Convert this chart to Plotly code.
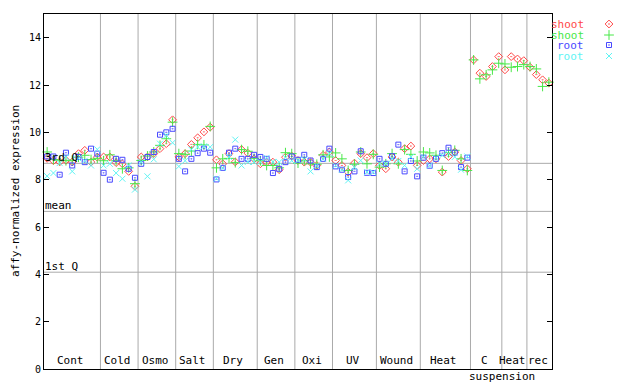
import plotly.graph_objects as go

# ---------------- data ----------------
groups = ["Cont", "Cold", "Osmo", "Salt", "Dry", "Gen", "Oxi", "UV", "Wound", "Heat", "C", "Heat", "rec"]
group_sizes = [9, 6, 6, 6, 7, 6, 6, 7, 7, 8, 5, 4, 4]

shoot_a = [8.90, 8.80, 8.75, 8.82, 8.75, 9.10, 9.24, 8.74, 8.95,
           8.96, 8.96, 8.72, 8.67, 8.35, 7.72,
           8.96, 8.96, 9.10, 9.31, 9.52, 10.53,
           8.96, 9.10, 9.49, 9.77, 10.02, 10.22,
           8.84, 8.67, 9.10, 8.75, 9.27, 9.12, 8.88,
           8.67, 8.74, 8.74, 8.42, 8.95, 9.00,
           8.81, 8.74, 8.74, 8.60, 9.03, 9.17,
           8.81, 8.60, 8.32, 8.70, 9.10, 8.93, 9.10,
           8.60, 8.46, 8.96, 8.74, 9.31, 9.42, 8.60,
           8.81, 8.88, 8.88, 8.32, 8.98, 9.17, 8.81, 8.46,
           13.06, 12.50, 12.36, 12.78, 13.20,
           12.64, 13.20, 13.10, 13.03,
           12.75, 12.44, 12.22, 12.08]
shoot_b = [9.17, 8.85, 8.82, 8.80, 8.82, 8.95, 9.03, 8.85, 8.90,
           8.80, 9.05, 8.80, 8.46, 8.50, 7.83,
           8.81, 9.00, 9.17, 9.45, 9.73, 10.43,
           9.10, 9.07, 9.21, 9.49, 9.47, 10.25,
           8.50, 8.88, 8.90, 8.72, 9.27, 9.20, 8.90,
           8.80, 8.60, 8.60, 8.50, 9.14, 9.10,
           8.70, 8.80, 8.67, 8.65, 9.05, 8.96,
           9.13, 8.88, 8.39, 8.65, 9.17, 8.67, 9.07,
           8.53, 8.67, 9.10, 8.67, 9.27, 9.07, 8.79,
           9.17, 9.13, 9.03, 8.39, 9.14, 9.24, 8.88, 8.39,
           13.06, 12.26, 12.43, 12.64, 12.92,
           12.89, 12.75, 12.78, 12.86,
           12.78, 12.68, 11.94, 12.12]
root_a = [8.98, 8.98, 8.21, 9.14, 8.60, 8.96, 8.74, 9.31, 9.10,
          8.29, 8.00, 8.88, 8.84, 8.46, 8.08,
          8.67, 8.96, 9.17, 9.90, 10.00, 10.15,
          8.88, 8.35, 8.88, 9.12, 9.31, 9.14,
          8.01, 8.50, 9.14, 9.31, 8.88, 8.88, 9.05,
          8.96, 8.88, 8.28, 8.46, 8.74, 8.98,
          8.84, 9.05, 8.81, 8.53, 8.88, 9.31,
          8.56, 8.42, 8.11, 8.35, 9.20, 8.29, 8.28,
          8.88, 8.67, 8.99, 9.48, 8.35, 8.79, 8.14,
          8.93, 8.59, 8.88, 9.12, 9.35, 9.14, 8.53, 8.93,
          None, None, None, None, None,
          None, None, None, None,
          None, None, None, None]
root_b = [8.15, 8.28, 8.70, 8.95, 8.35, 8.90, 8.80, 8.60, 9.28,
          8.60, 8.67, 8.28, 8.04, 8.60, 7.58,
          8.75, 8.14, 8.86, 9.52, 9.87, 9.56,
          8.56, 8.80, 9.27, 9.38, 9.41, 9.38,
          8.04, 8.50, 8.96, 9.69, 8.60, 8.75, 8.75,
          8.75, 8.92, 8.75, 8.74, 8.93, 8.80,
          8.81, 8.85, 8.35, 8.60, 8.88, 9.10,
          8.60, 8.42, 7.97, 8.53, 8.81, 8.32, 8.32,
          8.67, 8.67, 8.88, 8.79, 8.60, 8.96, 8.46,
          8.96, 8.60, 8.93, 9.03, 9.10, 8.96, 8.42, 8.98,
          None, None, None, None, None,
          None, None, None, None,
          None, None, None, None]

stat_names = ["3rd Q", "mean", "1st Q"]
stat_values = [8.69, 6.66, 4.09]

y_ticks = [0, 2, 4, 6, 8, 10, 12, 14]
legend_names = ["shoot", "shoot", "root", "root"]

# ---------------- styles ----------------
FONT = "DejaVu Sans Mono"
colors = ["#ff4848", "#48e848", "#4848ff", "#60f4f4"]
symbols = ["diamond-open-dot", "cross-thin-open", "square-open-dot", "x-thin-open"]
sizes = [6, 7, 5, 6]
GRID = "#aaaaaa"

# page is drawn with an 8px body margin; work in figure pixels = page pixels - 8
OFF = 8
W, H = 640 - OFF, 384 - OFF
L, R, T, B = 44 - OFF, 552 - OFF, 14 - OFF, 369 - OFF

n = sum(group_sizes)
xs = list(range(n))
series = [shoot_a, shoot_b, root_a, root_b]

fig = go.Figure()
for vals, c, s, sz in zip(series, colors, symbols, sizes):
    fig.add_trace(go.Scatter(
        x=xs, y=vals, mode="markers",
        marker=dict(symbol=s, size=sz, color=c, line=dict(color=c, width=1)),
        showlegend=False, cliponaxis=False, hoverinfo="skip"))

shapes = []
annotations = []
start = 0
for gi, (g, sz) in enumerate(zip(groups, group_sizes)):
    end = start + sz
    if gi < len(groups) - 1:
        shapes.append(dict(type="line", xref="x", yref="y domain", x0=end - 0.5, x1=end - 0.5,
                           y0=0, y1=1, line=dict(color=GRID, width=1), layer="below"))
    center = (start + end - 1) / 2 - 0.3
    annotations.append(dict(x=center, y=0, xref="x", yref="y", text=g, showarrow=False,
                            yanchor="bottom", yshift=0, font=dict(family=FONT, size=11, color="black")))
    if g == "C":
        annotations.append(dict(x=end - 0.5, y=0, xref="x", yref="y", text="suspension", showarrow=False,
                                yanchor="top", yshift=1, font=dict(family=FONT, size=11, color="black")))
    start = end

for name, v in zip(stat_names, stat_values):
    shapes.append(dict(type="line", xref="x domain", yref="y", x0=0, x1=1, y0=v, y1=v,
                       line=dict(color=GRID, width=1), layer="below"))
    annotations.append(dict(x=0, y=v, xref="x domain", yref="y", text=name, showarrow=False,
                            xanchor="left", yanchor="bottom", xshift=-1, yshift=-3,
                            font=dict(family=FONT, size=11, color="black")))

annotations.append(dict(x=(15 - OFF) / W, y=1 - (191 - OFF) / H, xref="paper", yref="paper",
                        xanchor="center", yanchor="middle",
                        text="affy-normalized expression", textangle=-90, showarrow=False,
                        font=dict(family=FONT, size=11, color="black")))

# legend: text + marker on a full-figure pixel axis
leg_rows = [24, 35, 45, 56]
for name, c, yy in zip(legend_names, colors, leg_rows):
    annotations.append(dict(x=586 - OFF, y=yy - OFF, xref="x2", yref="y2", text=name, showarrow=False,
                            xanchor="right", yanchor="middle", font=dict(family=FONT, size=11, color=c)))
for c, s, sz, yy in zip(colors, symbols, sizes, leg_rows):
    fig.add_trace(go.Scatter(x=[609 - OFF], y=[yy - OFF], xaxis="x2", yaxis="y2", mode="markers",
                             marker=dict(symbol=s, size=sz, color=c, line=dict(color=c, width=1)),
                             showlegend=False, hoverinfo="skip", cliponaxis=False))

fig.update_layout(
    width=W, height=H, margin=dict(l=0, r=0, t=0, b=0),
    paper_bgcolor="white", plot_bgcolor="rgba(0,0,0,0)",
    showlegend=False,
    xaxis=dict(domain=[L / W, R / W], range=[-0.5, n - 0.5], showgrid=False, zeroline=False,
               showticklabels=False, ticks="", showline=True, linecolor="black", linewidth=1,
               mirror=True, automargin=False),
    yaxis=dict(domain=[(H - B) / H, (H - T) / H], range=[0, 15], showgrid=False, zeroline=False,
               tickvals=y_ticks, ticks="inside", ticklen=5, tickcolor="black",
               showline=True, linecolor="black", linewidth=1, mirror="allticks",
               tickfont=dict(family=FONT, size=10, color="black"), automargin=False),
    xaxis2=dict(domain=[0, 1], range=[0, W], anchor="y2", visible=False, fixedrange=True),
    yaxis2=dict(domain=[0, 1], range=[H, 0], anchor="x2", visible=False, fixedrange=True),
    shapes=shapes, annotations=annotations,
)

fig.write_html("out.html")
